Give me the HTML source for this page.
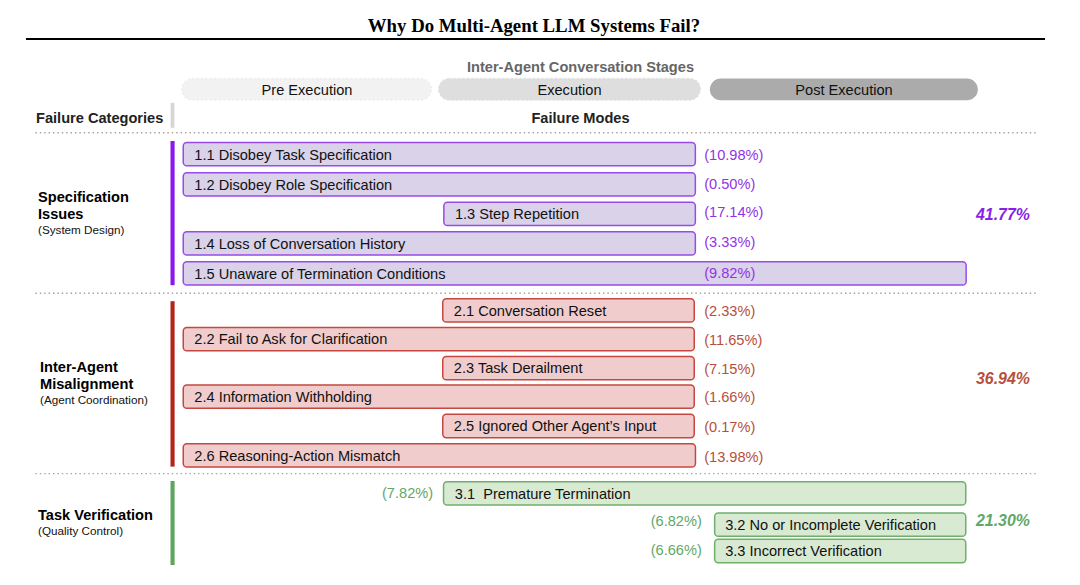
<!DOCTYPE html>
<html>
<head>
<meta charset="utf-8">
<title>Why Do Multi-Agent LLM Systems Fail?</title>
<style>
html,body{margin:0;padding:0;background:#fff;}
body{width:1080px;height:585px;position:relative;overflow:hidden;font-family:"Liberation Sans",sans-serif;color:#1a1a1a;}
.abs{position:absolute;white-space:nowrap;}
.title{left:0;width:1068px;top:16px;text-align:center;font-family:"Liberation Serif",serif;font-weight:bold;font-size:18.8px;line-height:20px;color:#000;}
.rule{left:26px;top:37.8px;width:1018.5px;height:2.2px;background:#000;}
.stages{left:440px;width:281px;top:58px;text-align:center;font-weight:bold;font-size:14.6px;line-height:18px;color:#666;}
.pill{height:22px;top:79px;text-align:center;font-size:14.6px;line-height:22px;color:#111;}
.p1{left:182px;width:250px;}
.p2{left:438px;width:263px;}
.p3{left:710px;width:268px;}
svg.abs{left:0;top:0;}
.fc{left:36px;top:108px;font-weight:bold;font-size:14.6px;line-height:20px;color:#222;}
.fm{left:440px;width:281px;top:108px;text-align:center;font-weight:bold;font-size:14.6px;line-height:20px;color:#222;}
.box{height:22px;font-size:14.6px;line-height:22px;color:#111;}
rect.pu{fill:#d9d2e9;stroke:#9b4ae8;}
rect.re{fill:#f1cccc;stroke:#c4483f;}
rect.gr{fill:#d9ead3;stroke:#6fae6b;}
.pct{font-size:14.6px;line-height:22px;height:22px;}
.cpu{color:#9232e6;}
.tot.cpu{color:#8a1fe8;}
.cre{color:#b5503c;}
.cgr{color:#60a868;}
.cat{left:38px;font-weight:bold;font-size:14.6px;line-height:17px;color:#000;white-space:normal;}
.cat small{display:block;font-weight:normal;font-size:11.7px;line-height:14px;color:#111;}
.tot{font-weight:bold;font-style:italic;font-size:15.9px;line-height:20px;left:976px;}
</style>
</head>
<body>
<div class="abs title">Why Do Multi-Agent LLM Systems Fail?</div>
<div class="abs rule"></div>

<svg class="abs" width="1080" height="585" viewBox="0 0 1080 585">
<g stroke-width="1.5" stroke-dasharray="1.5 2.9" stroke-linecap="butt">
<rect x="181.75" y="78.5" width="249.7" height="21.6" rx="10.75" fill="#f2f2f2" stroke="#ececec"/>
<rect x="438.6" y="78.4" width="261.8" height="21.8" rx="10.9" fill="#dedede" stroke="#dedede" stroke-width="1.2"/>
<rect x="709.9" y="78.5" width="267.9" height="21.8" rx="10.9" fill="#ababab" stroke="none"/>
</g>
<g stroke="#a2a2a2" stroke-width="1.45" stroke-dasharray="1.4 3.0" fill="none">
<line x1="35.4" y1="132.8" x2="1036" y2="132.8"/>
<line x1="35.4" y1="293.2" x2="1036" y2="293.2"/>
<line x1="35.4" y1="473.6" x2="1036" y2="473.6"/>
</g>
<rect x="170.6" y="102.9" width="3.8" height="24.9" fill="#d6d6d6"/>
<rect x="170.5" y="141" width="4.1" height="144.2" fill="#8a18ea"/>
<rect x="170.5" y="301.2" width="4.1" height="165.4" fill="#b3241a"/>
<rect x="170.5" y="481" width="4.1" height="84" fill="#5fa55d"/>
<g stroke-width="1.5">
<rect class="pu" x="183.25" y="142.45" width="512.10" height="23.30" rx="3.6"/>
<rect class="pu" x="183.25" y="172.75" width="512.10" height="23.30" rx="3.6"/>
<rect class="pu" x="443.85" y="202.25" width="251.50" height="23.30" rx="3.6"/>
<rect class="pu" x="183.25" y="231.75" width="512.10" height="23.30" rx="3.6"/>
<rect class="pu" x="183.25" y="261.75" width="782.90" height="23.30" rx="3.6"/>
<rect class="re" x="442.75" y="298.75" width="251.50" height="23.30" rx="3.6"/>
<rect class="re" x="183.25" y="327.55" width="511.00" height="23.30" rx="3.6"/>
<rect class="re" x="442.75" y="356.55" width="251.50" height="23.30" rx="3.6"/>
<rect class="re" x="183.25" y="385.05" width="511.00" height="23.30" rx="3.6"/>
<rect class="re" x="442.75" y="414.35" width="251.50" height="23.30" rx="3.6"/>
<rect class="re" x="183.25" y="443.75" width="512.20" height="23.30" rx="3.6"/>
<rect class="gr" x="443.55" y="481.75" width="522.20" height="23.30" rx="3.6"/>
<rect class="gr" x="714.65" y="512.95" width="251.10" height="23.30" rx="3.6"/>
<rect class="gr" x="714.65" y="539.35" width="251.10" height="23.30" rx="3.6"/>
</g>
</svg>
<div class="abs stages">Inter-Agent Conversation Stages</div>
<div class="abs pill p1">Pre Execution</div>
<div class="abs pill p2">Execution</div>
<div class="abs pill p3">Post Execution</div>

<div class="abs fc">Failure Categories</div>
<div class="abs fm">Failure Modes</div>

<div class="abs cat" style="top:189px">Specification<br>Issues<small>(System Design)</small></div>
<div class="abs cat" style="top:359px;left:40px">Inter-Agent<br>Misalignment<small>(Agent Coordination)</small></div>
<div class="abs cat" style="top:507px">Task Verification<small>(Quality Control)</small></div>

<div class="abs tot cpu" style="top:205px">41.77%</div>
<div class="abs tot cre" style="top:369px">36.94%</div>
<div class="abs tot cgr" style="top:511px">21.30%</div>
<div class="abs box" style="left:194.3px;top:144px">1.1 Disobey Task Specification</div>
<div class="abs box" style="left:194.3px;top:174px">1.2 Disobey Role Specification</div>
<div class="abs box" style="left:454.9px;top:203px">1.3 Step Repetition</div>
<div class="abs box" style="left:194.3px;top:233px">1.4 Loss of Conversation History</div>
<div class="abs box" style="left:194.3px;top:263px">1.5 Unaware of Termination Conditions</div>
<div class="abs box" style="left:453.8px;top:300px">2.1 Conversation Reset</div>
<div class="abs box" style="left:194.3px;top:328px">2.2 Fail to Ask for Clarification</div>
<div class="abs box" style="left:453.8px;top:357px">2.3 Task Derailment</div>
<div class="abs box" style="left:194.3px;top:386px">2.4 Information Withholding</div>
<div class="abs box" style="left:453.8px;top:415px">2.5 Ignored Other Agent’s Input</div>
<div class="abs box" style="left:194.3px;top:445px">2.6 Reasoning-Action Mismatch</div>
<div class="abs box" style="left:454.8px;top:483px">3.1&nbsp; Premature Termination</div>
<div class="abs box" style="left:725.2px;top:514px">3.2 No or Incomplete Verification</div>
<div class="abs box" style="left:725.2px;top:540px">3.3 Incorrect Verification</div>
<div class="abs pct cpu" style="left:704.2px;top:144px">(10.98%)</div>
<div class="abs pct cpu" style="left:704.2px;top:173px">(0.50%)</div>
<div class="abs pct cpu" style="left:704.2px;top:201px">(17.14%)</div>
<div class="abs pct cpu" style="left:704.2px;top:231px">(3.33%)</div>
<div class="abs pct cpu" style="left:704.2px;top:262px">(9.82%)</div>
<div class="abs pct cre" style="left:704.2px;top:300px">(2.33%)</div>
<div class="abs pct cre" style="left:704.2px;top:329px">(11.65%)</div>
<div class="abs pct cre" style="left:704.2px;top:358px">(7.15%)</div>
<div class="abs pct cre" style="left:704.2px;top:386px">(1.66%)</div>
<div class="abs pct cre" style="left:704.2px;top:416px">(0.17%)</div>
<div class="abs pct cre" style="left:704.2px;top:446px">(13.98%)</div>
<div class="abs pct cgr" style="left:382px;top:482px">(7.82%)</div>
<div class="abs pct cgr" style="left:650.7px;top:510px">(6.82%)</div>
<div class="abs pct cgr" style="left:650.7px;top:539px">(6.66%)</div>
</body>
</html>
